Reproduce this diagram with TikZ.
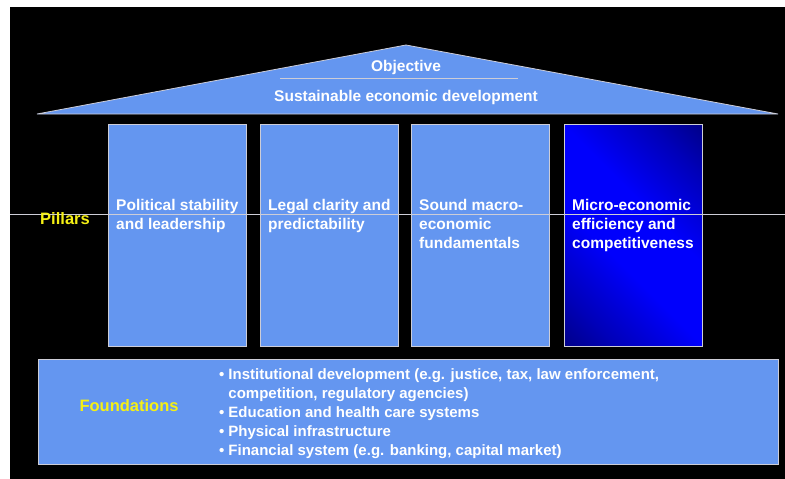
\documentclass[tikz,border=0pt]{standalone}
\usepackage{fontspec}
\setmainfont{Liberation Sans}
\usetikzlibrary{positioning}

\definecolor{pillarblue}{RGB}{100,150,240}
\definecolor{darknavy}{RGB}{0,0,70}
\definecolor{midnavy}{RGB}{0,0,185}
\definecolor{brightblue}{RGB}{0,0,252}
\definecolor{edgegray}{RGB}{205,205,215}
\definecolor{labelyellow}{RGB}{245,240,20}

\pgfdeclareverticalshading{pillarglow}{100bp}{color(0bp)=(darknavy); color(25bp)=(midnavy);
  color(42bp)=(brightblue); color(58bp)=(brightblue); color(75bp)=(midnavy); color(100bp)=(darknavy)}

\begin{document}
\begin{tikzpicture}[x=1pt,y=-1pt,
    pillar/.style={draw=edgegray, line width=0.8pt, fill=pillarblue, anchor=north west,
      minimum width=138pt, minimum height=222pt, inner sep=0pt},
    pillarhi/.style={pillar, fill=none, shading=pillarglow, shading angle=-45},
    ptext/.style={text=white, font=\bfseries\fontsize{15.5}{19}\selectfont,
      align=left, anchor=north west, inner sep=0pt},
    ylabel/.style={text=labelyellow, font=\bfseries\fontsize{16.5}{19}\selectfont, inner sep=0pt},
    rooftext/.style={text=white, font=\bfseries\fontsize{15.5}{19}\selectfont, inner sep=0pt}]
  \useasboundingbox (0,0) rectangle (785,479);
  % Background
  \fill[black] (10,7) rectangle (785,479);

  % Roof
  \draw[edgegray, line width=0.8pt, fill=pillarblue] (37,114) -- (406,45) -- (778,114) -- cycle;
  \node[rooftext] (obj) at (406,67) {Objective};
  \draw[edgegray, line width=0.5pt] (280,78) -- (518,78);
  \node[rooftext] (goal) at (406,97) {Sustainable economic development};

  % Pillars
  \node[pillar] (p1) at (108,124) {};
  \node[pillar] (p2) at (260,124) {};
  \node[pillar] (p3) at (411,124) {};
  \node[pillarhi] (p4) at (564,124) {};
  \draw[edgegray, line width=0.6pt] (10,214) -- (785,214);
  \node[ptext] (t1) at (116,199) {Political stability\\and leadership};
  \node[ptext] (t2) at (268,199) {Legal clarity and\\predictability};
  \node[ptext] (t3) at (419,199) {Sound macro-\\economic\\fundamentals};
  \node[ptext] (t4) at (572,199) {Micro-economic\\efficiency and\\competitiveness};
  \node[ylabel] (pil) at (65,219) {Pillars};

  % Foundations
  \node[pillar, minimum width=740pt, minimum height=105pt] (base) at (38,359) {};
  \node[ylabel] (fnd) at (129,406) {Foundations};
  \node[ptext, font=\bfseries\fontsize{15}{19}\selectfont] (list) at (219,366) {%
    \begin{tabular}{@{}l@{\hspace{4pt}}l@{}}
      \textbullet & Institutional development (e.g. justice, tax, law enforcement,\\
                  & competition, regulatory agencies)\\
      \textbullet & Education and health care systems\\
      \textbullet & Physical infrastructure\\
      \textbullet & Financial system (e.g. banking, capital market)
    \end{tabular}};
\end{tikzpicture}
\end{document}
